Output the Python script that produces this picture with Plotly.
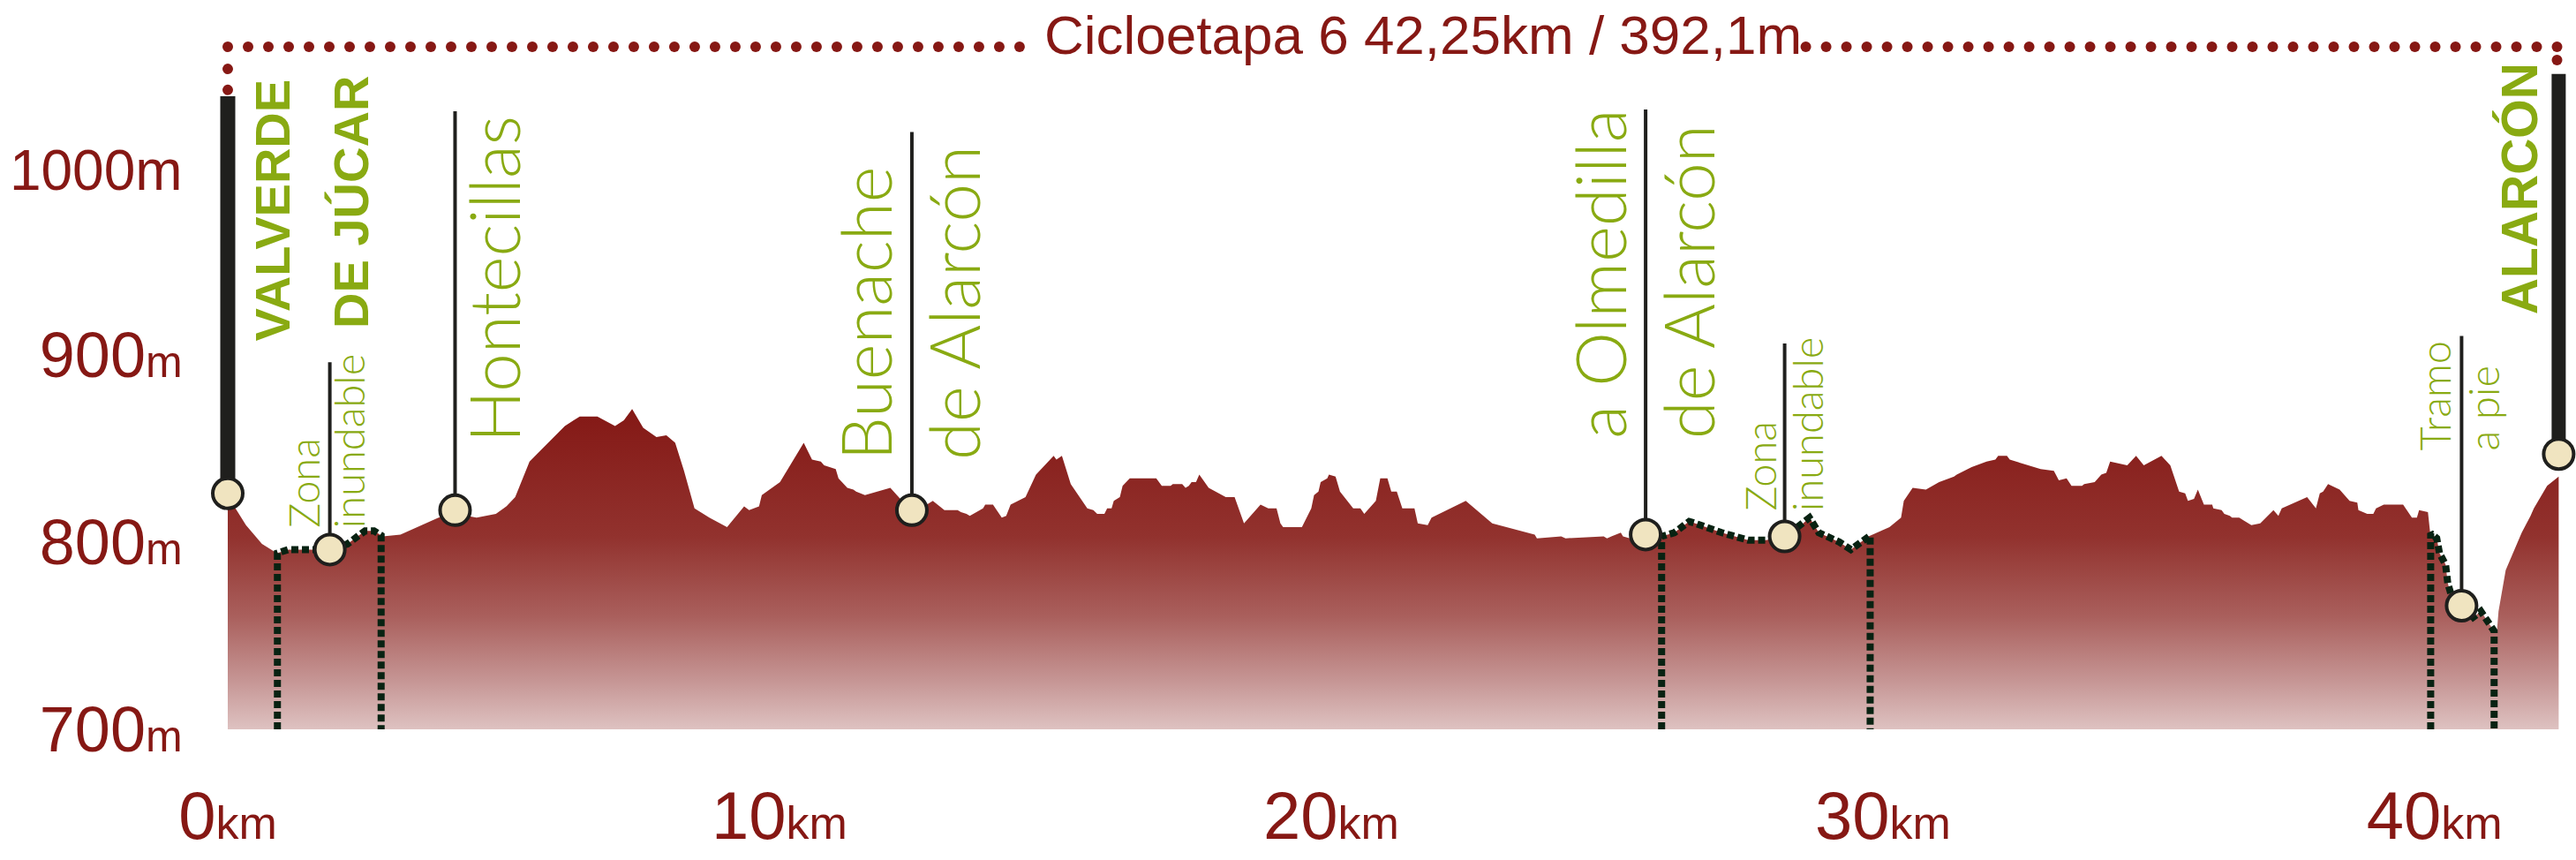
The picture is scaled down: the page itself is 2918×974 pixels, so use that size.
import numpy as np
import plotly.graph_objects as go

# ---------------- data ----------------
dist_km = [0.00, 0.14, 0.33, 0.62, 0.89, 1.10, 1.47, 1.85, 2.17, 2.49, 2.65, 2.81, 3.13, 3.82, 4.14, 4.51, 4.86, 5.05, 5.21, 5.47,
           5.74, 6.11, 6.27, 6.38, 6.70, 7.02, 7.18, 7.33, 7.53, 7.77, 7.95, 8.11, 8.27, 8.46, 8.73, 9.05, 9.36, 9.45, 9.63, 9.68,
           10.01, 10.44, 10.59, 10.75, 10.81, 11.02, 11.07, 11.23, 11.34, 11.39, 11.55, 12.01, 12.19, 12.40, 12.67, 12.78, 12.99, 13.23, 13.29, 13.39,
           13.45, 13.69, 13.73, 13.87, 14.03, 14.11, 14.19, 14.46, 14.65, 14.97, 15.02, 15.12, 15.28, 15.58, 15.69, 15.76, 15.89, 15.94, 16.02, 16.06,
           16.17, 16.22, 16.35, 16.83, 16.93, 17.09, 17.13, 17.30, 17.36, 17.42, 17.47, 17.55, 17.61, 17.78, 18.09, 18.25, 18.42, 18.72, 18.86, 19.01,
           19.08, 19.13, 19.47, 19.64, 19.69, 19.77, 19.81, 19.93, 19.96, 20.08, 20.16, 20.40, 20.53, 20.60, 20.81, 20.89, 21.02, 21.09, 21.19, 21.29,
           21.51, 21.57, 21.75, 21.82, 22.44, 22.92, 23.69, 23.73, 24.17, 24.25, 24.94, 25.00, 25.08, 25.25, 25.29, 25.42, 25.70, 25.99, 26.22, 26.49,
           26.60, 27.08, 27.56, 27.88, 28.24, 28.52, 28.67, 28.84, 29.21, 29.42, 29.74, 30.12, 30.33, 30.38, 30.54, 30.78, 31.02, 31.29, 31.34, 31.61,
           31.88, 32.04, 32.09, 32.25, 32.30, 32.86, 33.10, 33.19, 33.33, 33.42, 33.61, 33.65, 33.84, 33.96, 34.05, 34.12, 34.43, 34.59, 34.73, 35.05,
           35.21, 35.37, 35.48, 35.53, 35.64, 35.71, 35.82, 35.97, 35.99, 36.14, 36.19, 36.29, 36.33, 36.46, 36.68, 36.84, 37.08, 37.17, 37.23, 37.69,
           37.85, 37.92, 37.98, 38.07, 38.28, 38.46, 38.60, 38.62, 38.78, 38.89, 38.94, 39.08, 39.43, 39.59, 39.68, 39.72, 39.88, 39.92, 40.04, 40.09,
           40.20, 40.24, 40.30, 40.49, 40.62, 40.84, 41.00, 41.09, 41.13, 41.16, 41.29, 41.42, 41.58, 41.74, 41.80, 42.04, 42.25]
elev_m = [822, 818, 809, 799, 794, 796, 796, 796, 799, 806, 806, 803, 804, 813, 815, 813, 815, 819, 824, 843,
          851, 862, 865, 867, 867, 862, 865, 871, 861, 856, 857, 853, 838, 818, 813, 808, 819, 817, 819, 825,
          832, 853, 844, 843, 841, 839, 834, 829, 828, 827, 825, 829, 823, 818, 820, 822, 817, 817, 816, 815,
          814, 818, 820, 820, 813, 814, 820, 824, 836, 846, 844, 846, 831, 818, 817, 815, 815, 818, 818, 822,
          824, 830, 834, 834, 830, 830, 831, 831, 829, 830, 832, 832, 836, 829, 824, 824, 810, 820, 818, 818,
          810, 808, 808, 818, 825, 827, 832, 834, 836, 835, 827, 818, 818, 815, 822, 834, 834, 827, 827, 818,
          818, 810, 809, 813, 822, 810, 804, 802, 803, 802, 803, 802, 803, 805, 803, 802, 803, 803, 805, 811,
          810, 805, 801, 801, 803, 809, 813, 805, 800, 796, 803, 808, 813, 822, 829, 828, 832, 835, 836, 840,
          843, 844, 846, 846, 844, 839, 838, 833, 834, 830, 830, 831, 832, 836, 837, 843, 841, 846, 841, 846,
          841, 827, 826, 822, 823, 828, 820, 820, 818, 817, 815, 814, 813, 813, 809, 810, 817, 814, 818, 824,
          818, 826, 827, 831, 828, 822, 821, 817, 815, 815, 818, 820, 820, 813, 813, 817, 816, 805, 802, 794,
          788, 778, 772, 765, 758, 763, 756, 752, 752, 763, 785, 794, 805, 814, 818, 830, 835]

wp_names = ["VALVERDE DE JÚCAR", "Zona inundable", "Hontecillas", "Buenache de Alarcón",
            "Olmedilla de Alarcón", "Zona inundable", "Tramo a pie", "ALARCÓN"]
wp_km = [0.0, 1.85, 4.12, 12.40, 25.70, 28.22, 40.49, 42.25]
wp_elev = [826, 796, 817, 817, 804, 803, 766, 847]

# special sections (km start, km end): zona inundable, zona inundable, tramo a pie
sec_start = [0.90, 25.99, 39.93]
sec_end = [2.78, 29.77, 41.08]

title_text = "Cicloetapa 6 42,25km / 392,1m"
x_tick_vals = [0, 10, 20, 30, 40]
y_tick_vals = [700, 800, 900, 1000]

# ---------------- styling ----------------
RED = "rgb(134,24,20)"
GREEN = "rgb(137,170,18)"
DARK = "rgb(31,31,29)"
DOT = "rgb(8,34,18)"
SANS = "Liberation Sans, Arial, sans-serif"
LIGHT = "Lato, Roboto, Liberation Sans, sans-serif"

fig = go.Figure()

# elevation area with vertical gradient
fig.add_trace(go.Scatter(
    x=dist_km, y=elev_m, mode="lines", line=dict(width=0, color=RED),
    fill="tozeroy",
    fillgradient=dict(type="vertical", start=700, stop=871,
                      colorscale=[[0.0, "rgb(222,194,193)"], [0.15, "rgb(198,150,149)"],
                                  [0.35, "rgb(170,96,93)"], [0.6, "rgb(146,50,46)"],
                                  [1.0, "rgb(132,24,21)"]]),
    hoverinfo="skip"))

# dotted special sections
for a, b in zip(sec_start, sec_end):
    inner = [(k, e) for k, e in zip(dist_km, elev_m) if a < k < b]
    xs = [a, a] + [k for k, _ in inner] + [b, b]
    ys = [700, float(np.interp(a, dist_km, elev_m))] + [e for _, e in inner] + \
         [float(np.interp(b, dist_km, elev_m)), 700]
    fig.add_trace(go.Scatter(x=xs, y=ys, mode="lines",
                             line=dict(color=DOT, width=8, dash="8px,4px"),
                             hoverinfo="skip"))

# stems above waypoints
stem_top = [1038, 896, 1030, 1019, 1031, 906, 910, 1050]
stem_w = [17, 4, 4, 4, 4, 4, 4, 16]
for k, e, t, w in zip(wp_km, wp_elev, stem_top, stem_w):
    fig.add_trace(go.Scatter(x=[k, k], y=[e, t], mode="lines",
                             line=dict(color=DARK, width=w), hoverinfo="skip",
                             cliponaxis=False))

# waypoint markers
fig.add_trace(go.Scatter(x=wp_km, y=wp_elev, mode="markers", text=wp_names,
                         marker=dict(size=34, color="rgb(240,228,192)",
                                     line=dict(color=DARK, width=4)),
                         cliponaxis=False, hoverinfo="text"))

# dotted title bracket
left_x = list(np.arange(0.0, 14.6, 0.368))
right_x = list(np.arange(42.22, 28.6, -0.368))
bx = left_x + right_x + [0.0, 0.0, 42.22]
by = [1064.4] * (len(left_x) + len(right_x)) + [1052.6, 1041.4, 1057.4]
fig.add_trace(go.Scatter(x=bx, y=by, mode="markers",
                         marker=dict(size=12, color=RED), hoverinfo="skip",
                         cliponaxis=False))

annotations = [dict(x=21.67, y=1071, xref="x", yref="y", text=title_text, showarrow=False,
                    font=dict(family=SANS, size=62, color=RED),
                    xanchor="center", yanchor="middle")]

# rotated place labels: (text, waypoint index, x offset px, bottom elevation, kind)
labels = [("VALVERDE", 0, 50, 906.5, "bold"), ("DE JÚCAR", 0, 140, 913.6, "bold"),
          ("Zona", 1, -30, 807, "small"), ("inundable", 1, 21, 807, "small"),
          ("Hontecillas", 2, 43, 852.8, "big"),
          ("Buenache", 3, -53, 843.3, "big"), ("de Alarcón", 3, 47, 843.3, "big"),
          ("a Olmedilla", 4, -53, 854.6, "big"), ("de Alarcón", 4, 48, 854.6, "big"),
          ("Zona", 5, -28, 816, "small"), ("inundable", 5, 26, 816, "small"),
          ("Tramo", 6, -30, 848.5, "small"), ("a pie", 6, 25, 848.5, "small"),
          ("ALARCÓN", 7, -45, 921, "boldbig")]
fonts = {"bold": dict(family=SANS, size=56, color=GREEN, weight="bold"),
         "boldbig": dict(family=SANS, size=57, color=GREEN, weight="bold"),
         "big": dict(family=LIGHT, size=78, color=GREEN, weight=300),
         "small": dict(family=LIGHT, size=47, color=GREEN, weight=300)}
for txt, i, dx, yb, kind in labels:
    annotations.append(dict(x=wp_km[i], y=yb, xref="x", yref="y", text=txt, showarrow=False,
                            textangle=-90, xshift=dx, xanchor="center", yanchor="bottom",
                            font=fonts[kind], borderpad=0))

def ytick(v):
    if v >= 1000:
        return "<span style='font-size:64px'>%dm</span>" % v
    return "%d<span style='font-size:50px'>m</span>" % v

fig.update_layout(
    width=2918, height=974, margin=dict(l=239, r=4, t=20, b=148, autoexpand=False),
    plot_bgcolor="white", paper_bgcolor="white", showlegend=False,
    annotations=annotations,
    xaxis=dict(range=[-0.304, 42.50], tickvals=x_tick_vals, automargin=False,
               ticktext=["%d<span style='font-size:52px'>km</span>" % v for v in x_tick_vals],
               tickfont=dict(family=SANS, size=76, color=RED),
               showgrid=False, zeroline=False, showline=False,
               ticks="outside", ticklen=32, tickcolor="rgba(0,0,0,0)"),
    yaxis=dict(range=[700, 1080], tickvals=y_tick_vals, automargin=False,
               ticktext=[ytick(v) for v in y_tick_vals],
               tickfont=dict(family=SANS, size=72, color=RED),
               showgrid=False, zeroline=False, showline=False,
               ticks="outside", ticklen=17, tickcolor="rgba(0,0,0,0)"),
)

fig.write_html("out.html", post_script="document.body.style.margin='0';",
               config={"displayModeBar": False})
